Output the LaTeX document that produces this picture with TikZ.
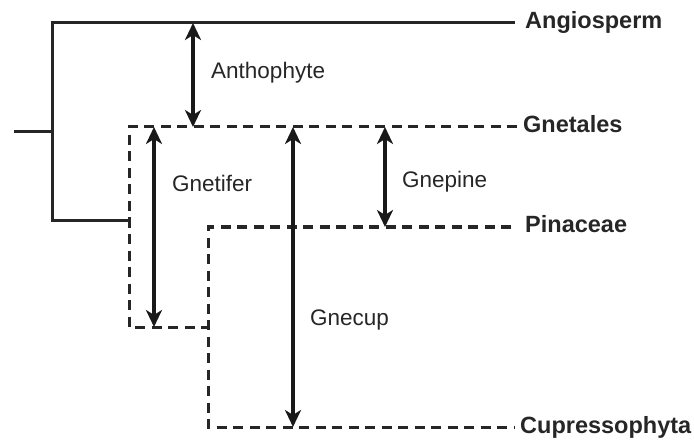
\documentclass[tikz,border=0pt]{standalone}
\usepackage{fontspec}
\setmainfont{Liberation Sans}
\usetikzlibrary{arrows.meta}
\usetikzlibrary{positioning}
\usetikzlibrary{calc}
\newcommand{\leafnode}[3]{\node(#1)[leaf] at (#2) {#3}}
\newcommand{\gaplabel}[3]{\node(#1)[gap] at (#2) {#3}}

\begin{document}
\begin{tikzpicture}[
        x=1pt, y=-1pt,
        every node/.style={inner sep=0pt, anchor=base west, text=black!85},
        leaf/.style={font=\fontsize{23.5}{24}\selectfont\bfseries},
        gap/.style={font=\fontsize{22.5}{24}\selectfont},
        branch/.style={line width=3pt, draw=black!85},
        hidden/.style={line width=3pt, draw=black!85, dash pattern=on 10pt off 6.5pt},
        span/.style={line width=3.8pt, draw=black!90,
                     {Stealth[length=17pt,width=16pt,inset=5pt]}-{Stealth[length=17pt,width=16pt,inset=5pt]}}
      ]
      \useasboundingbox (0,0) rectangle (694,441);
      \coordinate (root) at (14,132);
      \coordinate (fork) at (52,132);
      \coordinate (angioL) at (52,23);
      \coordinate (lowL) at (52,221);
      \coordinate (gnetL) at (129,127);
      \coordinate (joinL) at (129,221);
      \coordinate (gnetB) at (129,327);
      \coordinate (pinaL) at (208,227);
      \coordinate (cuprL) at (208,427);
      \leafnode{angio}{525,29}{Angiosperm};
      \leafnode{gnet}{523,133}{Gnetales};
      \leafnode{pina}{525,233}{Pinaceae};
      \leafnode{cupr}{520,433}{Cupressophyta};
      \draw[branch] (root) -- (fork);
      \draw[branch] ([xshift=-10pt]angioL -| angio.west) -- (angioL) -- (lowL) -- (joinL);
      \draw[hidden] ([xshift=-6pt]gnetL -| gnet.west) -- (gnetL) -- (gnetB) -- (gnetB -| pinaL);
      \draw[hidden] ([xshift=-14pt]pinaL -| pina.west) -- (pinaL) -- (cuprL) -- ([xshift=-5pt]cuprL -| cupr.west);

      \coordinate (anthoX) at (193,0);
      \coordinate (gnetiferX) at (154,0);
      \coordinate (gnecupX) at (293,0);
      \coordinate (gnepineX) at (385,0);
      \draw[span] (anthoX |- angioL) -- (anthoX |- gnetL);
      \draw[span] (gnetiferX |- gnetL) -- (gnetiferX |- gnetB);
      \draw[span] (gnecupX |- gnetL) -- (gnecupX |- cuprL);
      \draw[span] (gnepineX |- gnetL) -- (gnepineX |- pinaL);
      \gaplabel{antho}{211,79}{Anthophyte};
      \gaplabel{gnetifer}{172,192}{Gnetifer};
      \gaplabel{gnecup}{310,325}{Gnecup};
      \gaplabel{gnepine}{402,188}{Gnepine};
    \end{tikzpicture}
\end{document}
